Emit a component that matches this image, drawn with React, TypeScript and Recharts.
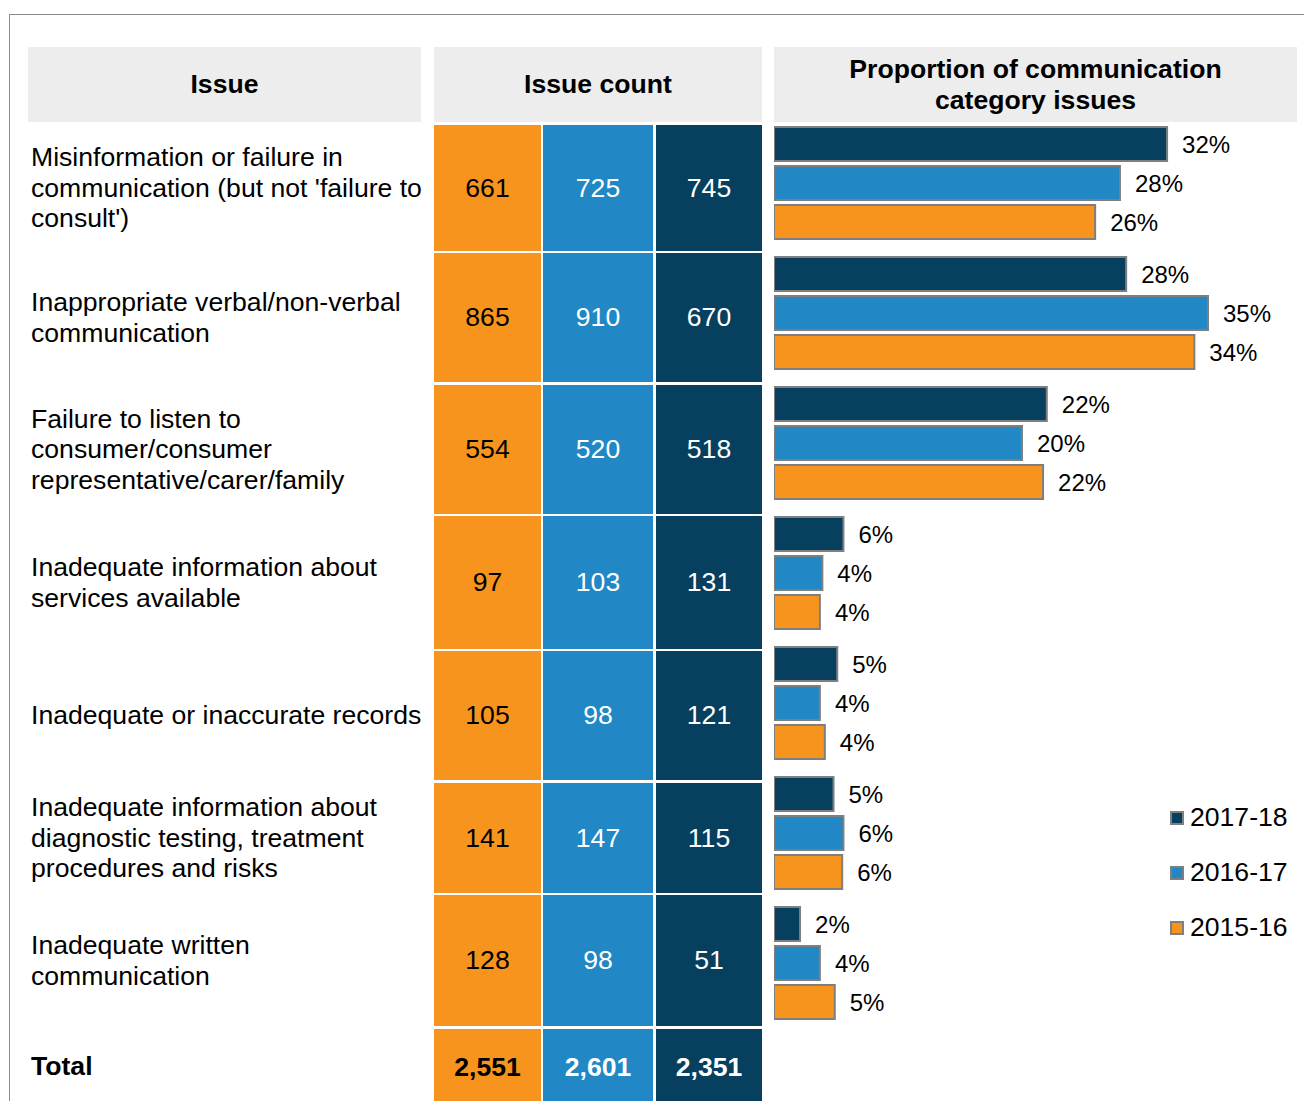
import React from "react"
import { BarChart, Bar, XAxis, YAxis, LabelList, Legend } from "recharts"

// rows of the table, top to bottom
const issues = [
  "Misinformation or failure in\ncommunication (but not 'failure to\nconsult')",
  "Inappropriate verbal/non-verbal\ncommunication",
  "Failure to listen to\nconsumer/consumer\nrepresentative/carer/family",
  "Inadequate information about\nservices available",
  "Inadequate or inaccurate records",
  "Inadequate information about\ndiagnostic testing, treatment\nprocedures and risks",
  "Inadequate written\ncommunication",
]

const count2015 = [661, 865, 554, 97, 105, 141, 128]
const count2016 = [725, 910, 520, 103, 98, 147, 98]
const count2017 = [745, 670, 518, 131, 121, 115, 51]
const totals = [2551, 2601, 2351]

// share of communication issues, %
const share2017 = [31.7, 28.4, 22.0, 5.6, 5.1, 4.8, 2.1]
const share2016 = [27.9, 35.0, 20.0, 3.9, 3.7, 5.6, 3.7]
const share2015 = [25.9, 33.9, 21.7, 3.7, 4.1, 5.5, 4.9]

const ORANGE = "#F7941D"
const BLUE = "#2187C5"
const NAVY = "#06405E"
const BAR_EDGE = "#7f7f7f"
const FONT = "'Liberation Sans', Arial, sans-serif"
const FS = 26.6

// table row layout (page px)
const rowTop = [125, 253, 385, 516, 651, 783, 895]
const rowBottom = [251, 382, 514, 649, 780, 893, 1026]
const totalTop = 1029

const countCols = [
  { left: 434, width: 107, bg: ORANGE, color: "#000", values: count2015 },
  { left: 543, width: 110, bg: BLUE, color: "#fff", values: count2016 },
  { left: 656, width: 106, bg: NAVY, color: "#fff", values: count2017 },
]

const chartData = issues.map((issue, i) => ({
  issue,
  y2017: share2017[i],
  y2016: share2016[i],
  y2015: share2015[i],
}))

const pct = (v: any) => `${Math.round(Number(v))}%`

const renderLegend = (props: any) => {
  const items = [...(props.payload || [])].sort((a: any, b: any) =>
    String(b.value).localeCompare(String(a.value)))
  return (
    <div style={{ fontFamily: FONT }}>
      {items.map((p: any) => (
        <div key={p.value} style={{ height: 55, display: "flex", alignItems: "center" }}>
          <span style={{
            display: "inline-block", width: 10, height: 10, background: p.color,
            border: `2px solid ${BAR_EDGE}`, marginRight: 6,
          }} />
          <span style={{ fontSize: FS, color: "#000" }}>{p.value}</span>
        </div>
      ))}
    </div>
  )
}

const headerStyle: React.CSSProperties = {
  position: "absolute", top: 47, height: 75, background: "#EDEDED",
  display: "flex", alignItems: "center", justifyContent: "center", textAlign: "center",
  fontWeight: 700, fontSize: FS, lineHeight: "31px", color: "#000",
}

export default function App() {
  return (
    <div style={{
      position: "absolute", left: 0, top: 0, width: 1304, height: 1101,
      overflow: "hidden", background: "#fff", fontFamily: FONT,
    }}>
      {/* frame */}
      <div style={{
        position: "absolute", left: 9, top: 14, width: 1320, height: 1120,
        border: "1px solid #8c8c8c",
      }} />

      {/* headers */}
      <div style={{ ...headerStyle, left: 28, width: 393 }}>Issue</div>
      <div style={{ ...headerStyle, left: 434, width: 328 }}>Issue count</div>
      <div style={{ ...headerStyle, left: 774, width: 523 }}>
        Proportion of communication<br />category issues
      </div>

      {/* issue labels */}
      {issues.map((txt, i) => (
        <div key={txt} style={{
          position: "absolute", left: 31, top: rowTop[i], height: rowBottom[i] - rowTop[i],
          width: 400, display: "flex", alignItems: "center",
          fontSize: FS, lineHeight: "30.5px", whiteSpace: "pre-line", color: "#000",
        }}>{txt}</div>
      ))}
      <div style={{
        position: "absolute", left: 31, top: totalTop, height: 74, display: "flex",
        alignItems: "center", fontSize: FS, fontWeight: 700, color: "#000",
      }}>Total</div>

      {/* count cells */}
      {countCols.map((c, ci) => (
        <React.Fragment key={ci}>
          {c.values.map((v, i) => (
            <div key={i} style={{
              position: "absolute", left: c.left, width: c.width, top: rowTop[i],
              height: rowBottom[i] - rowTop[i], background: c.bg, color: c.color,
              display: "flex", alignItems: "center", justifyContent: "center", fontSize: FS,
            }}>{v}</div>
          ))}
          <div style={{
            position: "absolute", left: c.left, width: c.width, top: totalTop, height: 76,
            background: c.bg, color: c.color, display: "flex", alignItems: "center",
            justifyContent: "center", fontSize: FS, fontWeight: 700,
          }}>{totals[ci].toLocaleString("en-US")}</div>
        </React.Fragment>
      ))}

      {/* proportion bars */}
      <div style={{ position: "absolute", left: 774, top: 118 }}>
        <BarChart
          width={530}
          height={910}
          data={chartData}
          layout="vertical"
          margin={{ top: 0, right: 34, bottom: 0, left: 0 }}
          barSize={34}
          barGap={5}
        >
          <XAxis type="number" domain={[0, 40]} hide />
          <YAxis type="category" dataKey="issue" hide width={0} />
          <Legend
            layout="horizontal"
            verticalAlign="middle"
            align="center"
            content={renderLegend}
            wrapperStyle={{ left: 396, top: 672, width: 130, height: 165 }}
          />
          <Bar dataKey="y2017" name="2017-18" fill={NAVY} stroke={BAR_EDGE} strokeWidth={2} isAnimationActive={false}>
            <LabelList dataKey="y2017" position="right" offset={15} formatter={pct} fill="#000" fontSize={24} fontFamily={FONT} />
          </Bar>
          <Bar dataKey="y2016" name="2016-17" fill={BLUE} stroke={BAR_EDGE} strokeWidth={2} isAnimationActive={false}>
            <LabelList dataKey="y2016" position="right" offset={15} formatter={pct} fill="#000" fontSize={24} fontFamily={FONT} />
          </Bar>
          <Bar dataKey="y2015" name="2015-16" fill={ORANGE} stroke={BAR_EDGE} strokeWidth={2} isAnimationActive={false}>
            <LabelList dataKey="y2015" position="right" offset={15} formatter={pct} fill="#000" fontSize={24} fontFamily={FONT} />
          </Bar>
        </BarChart>
      </div>
    </div>
  )
}
